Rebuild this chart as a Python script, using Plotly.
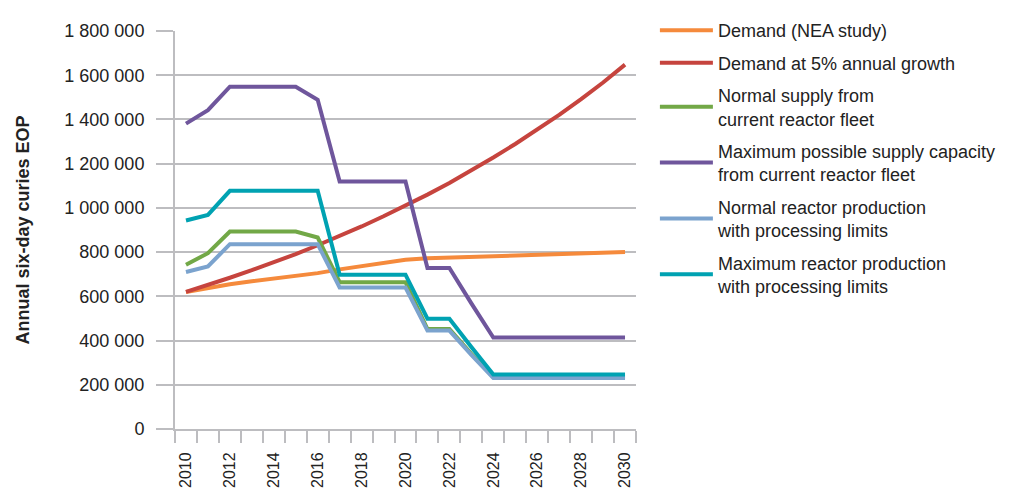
import plotly.graph_objects as go

years = list(range(2010, 2031))

demand_nea = [620000, 638000, 655000, 668000, 680000, 692000, 705000, 722000, 735000, 752000,
              765000, 772000, 775000, 777000, 780000, 782000, 787000, 790000, 793000, 797000, 800000]
demand_5pct = [620000, 651000, 684000, 718000, 754000, 791000, 831000, 872000, 916000, 962000,
               1010000, 1060000, 1113000, 1169000, 1228000, 1289000, 1353000, 1421000, 1492000, 1567000, 1648000]
normal_supply = [743000, 795000, 893000, 893000, 893000, 893000, 866000, 664000, 664000, 664000,
                 664000, 452000, 452000, 340000, 235000, 235000, 235000, 235000, 235000, 235000, 235000]
max_supply = [1381000, 1442000, 1548000, 1548000, 1548000, 1548000, 1489000, 1119000, 1119000, 1119000,
              1119000, 728000, 728000, 568000, 414000, 414000, 414000, 414000, 414000, 414000, 414000]
normal_proc = [710000, 735000, 836000, 836000, 836000, 836000, 836000, 640000, 640000, 640000,
               640000, 445000, 445000, 335000, 231000, 231000, 231000, 231000, 231000, 231000, 231000]
max_proc = [943000, 968000, 1077000, 1077000, 1077000, 1077000, 1077000, 698000, 698000, 698000,
            698000, 499000, 499000, 371000, 246000, 246000, 246000, 246000, 246000, 246000, 246000]

series = [
    ("Demand (NEA study)", demand_nea, "#F58A3C"),
    ("Demand at 5% annual growth", demand_5pct, "#C6443E"),
    ("Normal supply from<br>current reactor fleet", normal_supply, "#72A847"),
    ("Maximum possible supply capacity<br>from current reactor fleet", max_supply, "#6F569C"),
    ("Normal reactor production<br>with processing limits", normal_proc, "#7BA3CE"),
    ("Maximum reactor production<br>with processing limits", max_proc, "#00A2B2"),
]

fig = go.Figure()
for i, (name, vals, col) in enumerate(series):
    fig.add_trace(go.Scatter(x=years, y=vals, mode="lines", name=name,
                             legendgroup=f"g{i}",
                             line=dict(color=col, width=4)))

grid = "#BDBDC0"
fig.update_layout(
    width=1014, height=490,
    margin=dict(l=175, r=378, t=29, b=61),
    paper_bgcolor="white", plot_bgcolor="white",
    separators=". ",
    font=dict(family="Liberation Sans, Arial, sans-serif", size=18, color="#222222"),
    showlegend=True,
    legend=dict(x=1.041, y=1.0475, xanchor="left", yanchor="top",
                font=dict(size=18, color="#222222"), itemwidth=53,
                tracegroupgap=6, maxheight=1.0,
                bgcolor="rgba(0,0,0,0)"),
    xaxis=dict(range=[2009.5, 2030.5], tickmode="array",
               tickvals=[2010, 2012, 2014, 2016, 2018, 2020, 2022, 2024, 2026, 2028, 2030],
               ticktext=["2010", "2012", "2014", "2016", "2018", "2020", "2022", "2024", "2026", "2028", "2030"],
               tickangle=-90, ticks="outside", ticklen=0, ticklabelstandoff=15,
               automargin=False,
               showgrid=False, showline=True, linecolor=grid, linewidth=2,
               minor=dict(tick0=2009.5, dtick=1, ticks="outside", ticklen=12,
                          tickcolor=grid, tickwidth=2, showgrid=False),
               tickfont=dict(size=16), zeroline=False),
    yaxis=dict(range=[0, 1800000], dtick=200000, tickformat=",d",
               ticks="outside", ticklen=17, tickcolor=grid, tickwidth=2,
               ticklabelstandoff=8,
               showgrid=True, gridcolor=grid, gridwidth=2,
               showline=True, linecolor=grid, linewidth=2, zeroline=False,
               tickfont=dict(size=18),
               title=dict(text="<b>Annual six-day curies EOP</b>", font=dict(size=18), standoff=30)),
)

fig.write_html("out.html")
